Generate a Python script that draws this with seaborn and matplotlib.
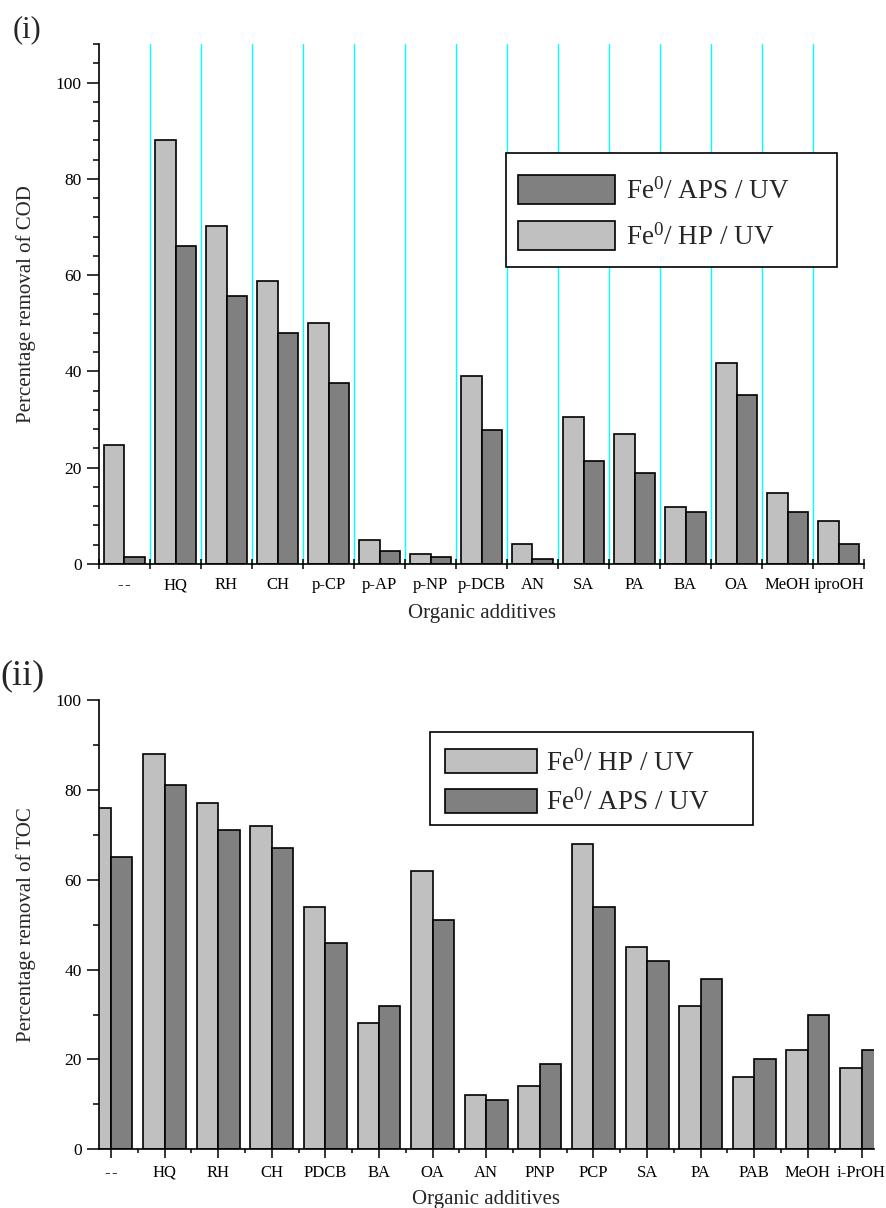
import numpy as np
import pandas as pd
import matplotlib
matplotlib.use("Agg")
import matplotlib.pyplot as plt
import seaborn as sns
from matplotlib.patches import Patch, Rectangle
from matplotlib.ticker import FixedLocator, MultipleLocator

# ---------------- data ----------------
cod_categories = ["-\u200a-", "HQ", "RH", "CH", "p-CP", "p-AP", "p-NP", "p-DCB",
                  "AN", "SA", "PA", "BA", "OA", "MeOH", "iproOH"]
cod_hp = [24.8, 88.0, 70.3, 58.8, 50.0, 5.0, 2.1, 39.1, 4.2, 30.6, 27.0, 11.9, 41.7, 14.8, 8.9]
cod_aps = [1.5, 66.0, 55.7, 48.0, 37.6, 2.6, 1.4, 27.9, 1.0, 21.4, 18.8, 10.8, 35.1, 10.9, 4.2]

toc_categories = ["-\u200a-", "HQ", "RH", "CH", "PDCB", "BA", "OA", "AN", "PNP",
                  "PCP", "SA", "PA", "PAB", "MeOH", "i-PrOH"]
toc_hp = [76, 88, 77, 72, 54, 28, 62, 12, 14, 68, 45, 32, 16, 22, 18]
toc_aps = [65, 81, 71, 67, 46, 32, 51, 11, 19, 54, 42, 38, 20, 30, 22]

series_names = [r"Fe$^{\mathrm{0}}$/ HP / UV", r"Fe$^{\mathrm{0}}$/ APS / UV"]
series_colors = ["#C0C0C0", "#808080"]

# ---------------- style ----------------
sns.set_theme(style="white")
plt.rcParams["font.family"] = ["Liberation Serif", "DejaVu Serif"]
plt.rcParams["mathtext.fontset"] = "custom"
plt.rcParams["mathtext.rm"] = "Liberation Serif"
plt.rcParams["mathtext.it"] = "Liberation Serif:italic"
plt.rcParams["axes.edgecolor"] = "black"
plt.rcParams["axes.linewidth"] = 1.2
plt.rcParams["xtick.color"] = "black"
plt.rcParams["ytick.color"] = "black"

W, H = 887, 1208
fig = plt.figure(figsize=(W / 100, H / 100), dpi=100)


def long_df(cats, hp, aps):
    return pd.DataFrame({
        "additive": cats + cats,
        "series": [series_names[0]] * len(cats) + [series_names[1]] * len(cats),
        "value": list(hp) + list(aps),
    })


def draw_bars(ax, df, cats):
    sns.barplot(data=df, x="additive", y="value", hue="series", order=cats,
                hue_order=series_names, palette=series_colors, saturation=1,
                edgecolor="black", linewidth=1.2, width=0.8, errorbar=None,
                ax=ax, legend=False, zorder=2)


def style_y(ax, ymax, minor_step):
    ax.set_ylim(0, ymax)
    ax.yaxis.set_major_locator(FixedLocator([0, 20, 40, 60, 80, 100]))
    ax.yaxis.set_minor_locator(MultipleLocator(minor_step))
    ax.tick_params(axis="y", which="major", direction="out", length=8.4, width=1.1,
                   labelsize=12.5, pad=4, left=True)
    ax.tick_params(axis="y", which="minor", direction="out", length=4, width=1.1, left=True)
    for s in ["top", "right"]:
        ax.spines[s].set_visible(False)
    for s in ["left", "bottom"]:
        ax.spines[s].set_color("black")
        ax.spines[s].set_linewidth(1.2)


def make_handles(order):
    return [Patch(facecolor=series_colors[i], edgecolor="black", linewidth=1.2) for i in order], \
           [series_names[i] for i in order]


def legend_with_frame(ax, order, frame_px, anchor_px, hh, hl, ls, htp):
    h, l = make_handles(order)
    leg = ax.legend(h, l, loc="upper left",
                    bbox_to_anchor=(anchor_px[0] / W, 1 - anchor_px[1] / H),
                    bbox_transform=fig.transFigure, fontsize=19.5, frameon=False,
                    handlelength=hl, handleheight=hh, borderpad=0, labelspacing=ls,
                    handletextpad=htp, borderaxespad=0)
    leg.set_zorder(6)
    x0, y0, x1, y1 = frame_px
    ax.add_patch(Rectangle((x0 / W, 1 - y1 / H), (x1 - x0) / W, (y1 - y0) / H,
                           transform=fig.transFigure, facecolor="white",
                           edgecolor="black", linewidth=1.2, zorder=5, clip_on=False))


# ---------------- panel (i) COD ----------------
ax1 = fig.add_axes([99 / W, 1 - 564 / H, 765 / W, 520 / H])
draw_bars(ax1, long_df(cod_categories, cod_hp, cod_aps), cod_categories)
n1 = len(cod_categories)
ax1.set_xlim(-0.5, n1 - 0.5)
for b in np.arange(0.5, n1 - 0.5, 1.0):
    ax1.axvline(b, color="#00FFFF", lw=1.0, zorder=0.5)
style_y(ax1, 108, 4)
ax1.set_xticks(np.arange(n1))
ax1.set_xticklabels(cod_categories)
ax1.xaxis.set_minor_locator(FixedLocator(np.arange(-0.5, n1, 1.0)))
ax1.tick_params(axis="x", which="major", length=0, labelsize=12, pad=9.5, bottom=True)
ax1.tick_params(axis="x", which="minor", direction="inout", length=7.5, width=1.1, bottom=True)
ax1.set_xlabel("Organic additives", fontsize=15, labelpad=8)
ax1.set_ylabel("Percentage removal of COD", fontsize=15, labelpad=14)

# ---------------- panel (ii) TOC ----------------
ax2 = fig.add_axes([99 / W, 1 - 1149.3 / H, 775 / W, 449.3 / H])
draw_bars(ax2, long_df(toc_categories, toc_hp, toc_aps), toc_categories)
n2 = len(toc_categories)
ax2.set_xlim(-0.224, n2 - 1 + 0.233)
style_y(ax2, 100, 10)
ax2.set_xticks(np.arange(n2))
ax2.set_xticklabels(toc_categories)
ax2.xaxis.set_minor_locator(FixedLocator(np.arange(0.5, n2 - 1, 1.0)))
ax2.tick_params(axis="x", which="major", direction="out", length=6.5, width=1.1,
                labelsize=12, pad=4.5, bottom=True)
ax2.tick_params(axis="x", which="minor", direction="out", length=3, width=1.1, bottom=True)
ax2.set_xlabel("Organic additives", fontsize=15, labelpad=7)
ax2.set_ylabel("Percentage removal of TOC", fontsize=15, labelpad=14)

# legends (frames drawn as rectangles behind the legend contents)
legend_with_frame(ax1, [1, 0], (505.7, 153, 837.3, 266.7), (518, 175),
                  hh=1.25, hl=3.58, ls=0.62, htp=0.4)
legend_with_frame(ax2, [0, 1], (430, 732.3, 752.7, 825.3), (445, 749),
                  hh=1.0, hl=3.4, ls=0.45, htp=0.33)

# ---------------- panel labels ----------------
fig.text(13 / W, 1 - 30 / H, "(i)", fontsize=22, va="center", ha="left")
fig.text(0 / W, 1 - 676 / H, "(ii)", fontsize=26, va="center", ha="left")

fig.savefig("out.png", dpi=100)
